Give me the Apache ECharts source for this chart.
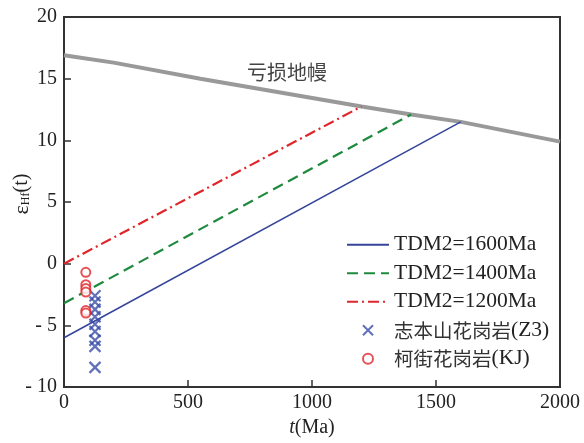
<!DOCTYPE html>
<html><head><meta charset="utf-8">
<script src="https://cdn.jsdelivr.net/npm/echarts@6/dist/echarts.min.js"></script>
<style>html,body{margin:0;padding:0;background:#fff}#c{width:584px;height:443px}</style>
</head><body><div id="c"></div>
<script>
// Depleted mantle evolution line
const dmAge = [0, 200, 550, 1200, 1400, 1600, 2000];
const dmEps = [16.9, 16.3, 15.0, 12.75, 12.1, 11.5, 9.9];
// Crustal model-age lines
const tdm1600Age = [0, 1600];
const tdm1600Eps = [-6.0, 11.5];
const tdm1400Age = [0, 1400];
const tdm1400Eps = [-3.2, 12.1];
const tdm1200Age = [0, 1200];
const tdm1200Eps = [0.0, 12.75];
// Samples
const z3Age = [125, 125, 125, 125, 125, 125, 125, 125, 125];
const z3Eps = [-2.6, -3.1, -3.7, -4.3, -4.9, -5.5, -6.2, -6.7, -8.4];
const kjAge = [88, 88, 88, 88, 88, 88];
const kjEps = [-0.7, -1.7, -2.0, -2.3, -3.8, -4.0];
// Labels
const seriesNames = ['TDM2=1600Ma', 'TDM2=1400Ma', 'TDM2=1200Ma', '志本山花岗岩(Z3)', '柯街花岗岩(KJ)'];
const xTickLabels = {0: '0', 500: '500', 1000: '1000', 1500: '1500', 2000: '2000'};
const yTickLabels = {'-10': '- 10', '-5': '- 5', '0': '0', '5': '5', '10': '10', '15': '15', '20': '20'};
const dmLabel = '亏损地幔';

const zip = (a, b) => a.map((v, i) => [v, b[i]]);
const serif = '"Liberation Serif", "Noto Sans CJK SC", serif';
const axisCol = '#333';

const legendFmt = name => {
  const k = name.indexOf('(');
  if (/[\u4e00-\u9fff]/.test(name) && k > 0) return '{c|' + name.slice(0, k) + '}{l|' + name.slice(k) + '}';
  return '{l|' + name + '}';
};

const chart = echarts.init(document.getElementById('c'), null, {renderer: 'canvas'});
chart.setOption({
  animation: false,
  backgroundColor: '#fff',
  grid: {left: 64, right: 24, top: 17, bottom: 47, show: true, borderColor: axisCol, borderWidth: 2, backgroundColor: 'transparent'},
  xAxis: {
    type: 'value', min: 0, max: 2000, interval: 500,
    name: '{i|t}{n|(Ma)}', nameLocation: 'middle', nameGap: 28,
    nameTextStyle: {rich: {i: {fontFamily: serif, fontSize: 20, fontStyle: 'italic', color: '#222'}, n: {fontFamily: serif, fontSize: 20, color: '#222'}}},
    axisLine: {onZero: false, lineStyle: {color: axisCol, width: 2}},
    axisTick: {inside: true, length: 7, lineStyle: {color: axisCol, width: 1.5}},
    axisLabel: {fontFamily: serif, fontSize: 20, color: '#222', margin: 6, formatter: v => xTickLabels[v] ?? ''},
    splitLine: {show: false}
  },
  yAxis: {
    type: 'value', min: -10, max: 20, interval: 5,
    axisLine: {onZero: false, lineStyle: {color: axisCol, width: 2}},
    axisTick: {inside: true, length: 7, lineStyle: {color: axisCol, width: 1.5}},
    axisLabel: {fontFamily: serif, fontSize: 20, color: '#222', margin: 7, formatter: v => yTickLabels[String(v)] ?? ''},
    splitLine: {show: false}
  },
  legend: {
    orient: 'vertical', left: 341, top: 229, itemGap: 7, itemWidth: 42, itemHeight: 10,
    data: seriesNames.map((n, i) => i < 3 ? {name: n, itemStyle: {opacity: 0}} : {name: n}),
    formatter: legendFmt,
    textStyle: {fontFamily: serif, fontSize: 21.5, color: '#222',
      rich: {l: {fontFamily: serif, fontSize: 21.5, color: '#222'}, c: {fontFamily: '"Noto Sans CJK SC"', fontSize: 19.5, color: '#333'}}}
  },
  graphic: [
    {type: 'text', x: 247, y: 72, style: {text: dmLabel, font: '20px "Noto Sans CJK SC"', fill: '#444', verticalAlign: 'middle'}},
    {type: 'text', x: 22, y: 194, rotation: Math.PI / 2,
      style: {text: '{e|ε}{s|Hf}{n|(t)}', align: 'center', verticalAlign: 'middle',
        rich: {e: {fontFamily: serif, fontSize: 22, fill: '#222'}, s: {fontFamily: serif, fontSize: 12, fill: '#222', padding: [8, 0, 0, 0]}, n: {fontFamily: serif, fontSize: 20, fill: '#222'}}}}
  ],
  series: [
    {name: 'DM', type: 'line', data: zip(dmAge, dmEps), symbol: 'none', lineStyle: {color: '#999', width: 4}, z: 1},
    {name: seriesNames[0], type: 'line', data: zip(tdm1600Age, tdm1600Eps), symbol: 'none', itemStyle: {color: '#34449a'}, lineStyle: {color: '#34449a', width: 1.5}, z: 2},
    {name: seriesNames[1], type: 'line', data: zip(tdm1400Age, tdm1400Eps), symbol: 'none', itemStyle: {color: '#1e8a3e'}, lineStyle: {color: '#1e8a3e', width: 2.2, type: [11, 6]}, z: 2},
    {name: seriesNames[2], type: 'line', data: zip(tdm1200Age, tdm1200Eps), symbol: 'none', itemStyle: {color: '#e0262b'}, lineStyle: {color: '#e0262b', width: 2.2, type: [11, 4, 2, 4]}, z: 2},
    {name: seriesNames[3], type: 'scatter', data: zip(z3Age, z3Eps), symbol: 'path://M0,0L10,10M10,0L0,10', symbolSize: 11,
      itemStyle: {color: 'transparent', borderColor: '#3a4ea8', borderWidth: 2.2}, z: 3},
    {name: seriesNames[4], type: 'scatter', data: zip(kjAge, kjEps), symbol: 'circle', symbolSize: 9,
      itemStyle: {color: '#fff', borderColor: '#e0262b', borderWidth: 2}, z: 4}
  ]
});
</script>
</body></html>
